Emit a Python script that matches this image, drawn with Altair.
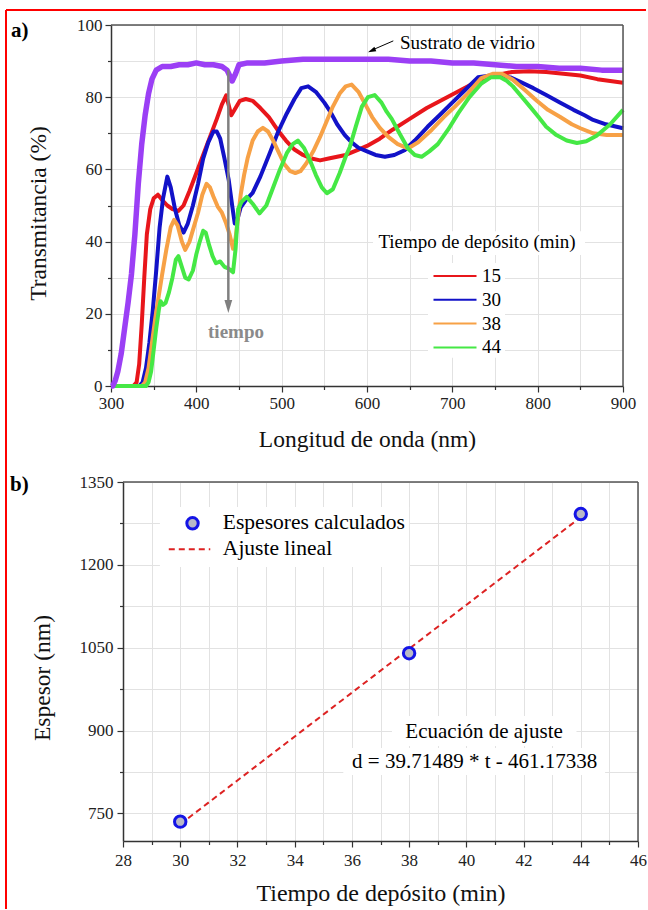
import altair as alt
import pandas as pd

FONT = "Liberation Serif, Times New Roman, serif"

# ---------------- Panel a) : transmittance spectra ----------------
wl_vidrio = [300, 302, 305, 308, 312, 316, 320, 324, 328, 332, 336, 340, 344, 348, 353, 360, 370, 380, 390,
             400, 410, 420, 430, 436, 442, 446, 450, 460, 480, 500, 525, 550, 575, 600, 625, 650, 675, 700,
             725, 750, 775, 800, 825, 850, 875, 900]
t_vidrio = [0, 0, 1.5, 4, 9, 16, 23, 31, 42, 56, 67, 75, 81, 85, 87.5, 88.5, 88.5, 89, 89,
            89.5, 89, 89, 88.5, 87.5, 84.5, 86.5, 89, 89.5, 89.5, 90, 90.5, 90.5, 90.5, 90.5, 90.5, 90, 90, 89.5,
            89.5, 89, 88.5, 88.5, 88, 88, 87.5, 87.5]

wl_15 = [300, 326, 330, 333, 336, 339, 342, 346, 350, 355, 360, 366, 372, 379, 385, 392, 400, 408, 416, 424,
         430, 435, 441, 446, 451, 458, 466, 475, 485, 495, 505, 515, 525, 535, 545, 555, 565, 575, 590, 600,
         615, 630, 650, 670, 690, 710, 730, 750, 770, 790, 810, 830, 850, 870, 885, 900]
t_15 = [0, 0, 1, 6, 17, 30, 42, 49, 52, 53, 51.5, 50, 49, 48.5, 50, 54, 59, 64, 69, 74,
        78, 80.5, 75, 77, 79, 79.5, 79, 77, 74.5, 71, 68, 65.5, 64, 63, 62.5, 63, 63.5, 64, 65.5, 66.5,
        68.5, 71, 74, 77, 79.5, 82, 84.5, 86, 87, 87.2, 87, 86.5, 86, 85, 84.5, 84]

wl_30 = [300, 333, 337, 341, 345, 349, 353, 357, 361, 366, 370, 375, 380, 385, 390, 396, 402, 408, 414, 420,
         424, 428, 433, 438, 442, 445, 448, 452, 458, 466, 475, 486, 496, 506, 515, 523, 531, 540, 550, 557,
         565, 574, 582, 590, 600, 610, 621, 632, 644, 656, 671, 685, 699, 715, 730, 745, 756, 768, 779, 795,
         810, 826, 842, 855, 865, 880, 900]
t_30 = [0, 0, 1, 5, 12, 21, 32, 44, 52, 58, 55, 49, 44.5, 42.5, 45, 50, 56, 63, 67.5, 70.5,
        70.5, 68.5, 63, 57, 50, 45, 46, 49.5, 51.5, 53.5, 58, 64.5, 70.5, 75.5, 79.5, 82.5, 83, 81.5, 78.5, 76,
        72.5, 69.5, 67.5, 66, 65, 64, 63.5, 64, 65.3, 68, 71.8, 75, 78.3, 82, 85.5, 86, 86, 85.5, 84.3, 82.5,
        80.6, 78.5, 76.5, 75, 73.7, 72.5, 71.4]

wl_38 = [300, 336, 340, 344, 348, 352, 356, 360, 365, 370, 374, 378, 383, 387, 392, 397, 402, 407, 412, 416,
         420, 425, 430, 435, 439, 443, 446, 449, 452, 456, 460, 466, 472, 478, 484, 490, 496, 503, 510, 516,
         522, 529, 537, 545, 553, 560, 568, 575, 582, 590, 598, 606, 615, 625, 636, 648, 660, 676, 690, 703,
         718, 734, 748, 758, 771, 785, 799, 812, 826, 840, 850, 865, 881, 900]
t_38 = [0, 0, 1, 5, 12, 19, 25, 31, 38, 44, 46, 44.5, 40, 37.7, 40, 44, 48, 53, 56, 55,
        52.5, 49.7, 48, 45, 42, 38, 41, 47, 53, 58.5, 63, 68, 70.5, 71.5, 70.5, 68, 65, 61.5, 59.5, 59,
        59.5, 61.7, 65, 69, 73.5, 77.4, 81, 83, 83.5, 81.5, 78, 74.5, 71.5, 69, 67, 65.8, 67.5, 71, 74.5, 77.4,
        81, 85.3, 86.5, 86.5, 84.8, 82, 79, 76.5, 74.6, 72.5, 71.4, 70, 69.5, 69.5]

wl_44 = [300, 341, 344, 347, 350, 353, 356, 358, 361, 364, 368, 372, 376, 379, 383, 387, 391, 396, 400, 404,
         408, 411, 415, 419, 423, 428, 433, 438, 443, 446, 449, 453, 459, 466, 474, 482, 490, 498, 506, 513,
         519, 526, 533, 540, 547, 553, 560, 568, 575, 580, 587, 594, 601, 609, 617, 623, 629, 638, 648, 656,
         664, 673, 683, 695, 707, 720, 734, 745, 756, 764, 771, 781, 791, 801, 810, 822, 834, 846, 857, 869,
         885, 900]
t_44 = [0, 0, 1, 4, 10, 16, 21, 23.5, 22.5, 23, 26, 30, 35, 36, 33, 30, 29.5, 32, 36.5, 40,
        43, 42.5, 39, 36, 34, 34.5, 33, 32.5, 31.5, 38, 49, 51, 52.4, 50.5, 47.8, 50, 55, 60, 64.5, 67,
        68, 66, 62.6, 58.5, 55, 53.4, 54.5, 59, 63.5, 66.3, 72, 77.4, 80, 80.6, 78.5, 76, 74, 70, 65.8, 64,
        63.5, 65, 67, 71, 75.6, 80, 83.8, 85.5, 85.5, 84.5, 83, 80.2, 77.4, 74.5, 71.8, 69.5, 68, 67.3, 67.8, 69.3,
        72.5, 76.5]

series_names = ["15", "30", "38", "44"]
series_colors = ["#e8161b", "#1212c8", "#f7a146", "#45e845"]
glass_color = "#9b3ff5"

rows = []
for name, w, t in zip(series_names, [wl_15, wl_30, wl_38, wl_44], [t_15, t_30, t_38, t_44]):
    for a, b in zip(w, t):
        rows.append({"wl": a, "T": b, "serie": name})
df_films = pd.DataFrame(rows)
df_glass = pd.DataFrame({"wl": wl_vidrio, "T": t_vidrio})

# annotations (data coordinates)
tiempo_arrow = pd.DataFrame({"wl": [437.5], "T": [87.5], "wl2": [437.5], "T2": [23.8]})
tiempo_head = pd.DataFrame({"wl": [437.5], "T": [22.0]})
tiempo_text = pd.DataFrame({"wl": [446.5], "T": [15.0], "txt": ["tiempo"]})
sust_arrow = pd.DataFrame({"wl": [630.8], "T": [95.6], "wl2": [609.4], "T2": [93.4]})
sust_head = pd.DataFrame({"wl": [605.5], "T": [92.9]})
sust_text = pd.DataFrame({"wl": [638.7], "T": [95.1], "txt": ["Sustrato de vidrio"]})
leg_title = pd.DataFrame({"wl": [728.9], "T": [39.9], "txt": ["Tiempo de depósito (min)"]})
mask_top = pd.DataFrame({"wl": [607, 671.5], "wl2": [855.5, 761.7], "T": [42.9, 34.1], "T2": [36.3, 7.8]})
one = pd.DataFrame({"k": [0]})

W1, H1 = 512, 361

X_TOP = alt.X("wl:Q", scale=alt.Scale(domain=[300, 900], nice=False, zero=False),
              axis=alt.Axis(values=list(range(300, 901, 50)),
                            labelExpr="datum.value % 100 === 0 ? datum.label : ''",
                            tickSize={"condition": {"test": "datum.value % 100 === 0", "value": 6}, "value": 3.5},
                            title="Longitud de onda (nm)", titleY=53, titleBaseline="middle",
                            labelPadding=3, labelFlush=False, labelFont=FONT, titleFont=FONT))
Y_TOP = alt.Y("T:Q", scale=alt.Scale(domain=[0, 100], nice=False),
              axis=alt.Axis(values=list(range(0, 101, 10)),
                            labelExpr="datum.value % 20 === 0 ? datum.label : ''",
                            tickSize={"condition": {"test": "datum.value % 20 === 0", "value": 6}, "value": 3.5},
                            title="Transmitancia (%)", titleX=-73, titleY=188, titleBaseline="middle",
                            titleAlign="center", labelPadding=3, labelFlush=False,
                            labelFont=FONT, titleFont=FONT))

mask_layer = alt.Chart(mask_top).mark_rect(color="white").encode(
    x=X_TOP, x2="wl2", y=Y_TOP, y2="T2")

films = alt.Chart(df_films).mark_line(strokeWidth=4, strokeJoin="round").encode(
    x=X_TOP, y=Y_TOP,
    color=alt.Color("serie:N", scale=alt.Scale(domain=series_names, range=series_colors),
                    legend=alt.Legend(title=None, orient="none", legendX=352, legendY=241.5,
                                      symbolType="M-9.75,0H1", symbolSize=64, symbolStrokeWidth=2,
                                      labelFont=FONT, labelFontSize=19, labelOffset=0, rowPadding=3.8,
                                      padding=0, labelColor="black")),
    order="wl:Q")

glass = alt.Chart(df_glass).mark_line(strokeWidth=5.5, color=glass_color, strokeJoin="round").encode(
    x=X_TOP, y=Y_TOP, order="wl:Q")

arr1 = alt.Chart(tiempo_arrow).mark_rule(color="#808080", strokeWidth=2.5).encode(
    x=X_TOP, x2="wl2", y=Y_TOP, y2="T2")
head1 = alt.Chart(tiempo_head).mark_point(shape="M-0.6,-1L0.6,-1L0,1Z", filled=True, color="#808080",
                                          size=169, opacity=1).encode(x=X_TOP, y=Y_TOP)
txt1 = alt.Chart(tiempo_text).mark_text(font=FONT, fontSize=19, fontWeight="bold", color="#8a8a8a",
                                        align="center", baseline="middle").encode(x=X_TOP, y=Y_TOP, text="txt:N")
arr2 = alt.Chart(sust_arrow).mark_rule(color="black", strokeWidth=1).encode(
    x=X_TOP, x2="wl2", y=Y_TOP, y2="T2")
head2 = alt.Chart(sust_head).mark_point(shape="M-0.6,-1L0.6,-1L0,1Z", filled=True, color="black",
                                        size=64, angle=66.5, opacity=1).encode(x=X_TOP, y=Y_TOP)
txt2 = alt.Chart(sust_text).mark_text(font=FONT, fontSize=19, color="black", align="left",
                                      baseline="middle").encode(x=X_TOP, y=Y_TOP, text="txt:N")
txt3 = alt.Chart(leg_title).mark_text(font=FONT, fontSize=19, color="black", align="center",
                                      baseline="middle").encode(x=X_TOP, y=Y_TOP, text="txt:N")

frame_top = alt.Chart(one).mark_rule(color="#555555", strokeWidth=1.5).encode(
    x=alt.value(0), x2=alt.value(W1), y=alt.value(0))
frame_right = alt.Chart(one).mark_rule(color="#555555", strokeWidth=1.5).encode(
    x=alt.value(W1), y=alt.value(0), y2=alt.value(H1))
red_h = alt.Chart(one).mark_rule(color="#ff0000", strokeWidth=2).encode(
    x=alt.value(-105), x2=alt.value(535), y=alt.value(-15))
red_v = alt.Chart(one).mark_rule(color="#ff0000", strokeWidth=2).encode(
    x=alt.value(-105), y=alt.value(-15), y2=alt.value(884))
lab_a = alt.Chart(one).mark_text(text="a)", font=FONT, fontSize=21, fontWeight="bold", align="left",
                                 baseline="middle", color="black").encode(x=alt.value(-100), y=alt.value(6))

top = alt.layer(mask_layer, films, glass, arr1, head1, txt1, arr2, head2, txt2, txt3,
                frame_top, frame_right, red_h, red_v, lab_a).properties(width=W1, height=H1)

# ---------------- Panel b) : thickness vs deposition time ----------------
t_dep = [30, 38, 44]
espesor = [735, 1040, 1292]
fit_t = [30, 44]
fit_d = [730.3, 1286.3]

df_pts = pd.DataFrame({"t": t_dep, "d": espesor})
df_fit = pd.DataFrame({"t": [fit_t[0]], "d": [fit_d[0]], "t2": [fit_t[1]], "d2": [fit_d[1]]})
leg_pt = pd.DataFrame({"t": [30.43], "d": [1275.2]})
leg_line = pd.DataFrame({"t": [29.60], "d": [1228.1], "t2": [31.05]})
leg_txt = pd.DataFrame({"t": [31.49, 31.49], "d": [1275.2, 1228.1], "txt": ["Espesores calculados", "Ajuste lineal"]})
eq_txt = pd.DataFrame({"t": [40.62, 40.29], "d": [897.9, 843.6],
                       "txt": ["Ecuación de ajuste", "d = 39.71489 * t - 461.17338"]})
mask_bot = pd.DataFrame({"t": [37.4, 35.7, 29.29], "t2": [43.85, 44.85, 38.0],
                         "d": [926.3, 868.4, 1304.7], "d2": [872.0, 819.5, 1196.0]})

SHIFT = 12
W2, H2 = 515 + SHIFT, 359

X_BOT = alt.X("t:Q", scale=alt.Scale(domain=[28, 46], nice=False, zero=False, range=[SHIFT, W2]),
              axis=alt.Axis(values=list(range(28, 47)),
                            labelExpr="datum.value % 2 === 0 ? datum.label : ''",
                            tickSize={"condition": {"test": "datum.value % 2 === 0", "value": 6}, "value": 3.5},
                            title="Tiempo de depósito (min)", titleY=52, titleBaseline="middle",
                            titleFontSize=24,
                            labelPadding=5, labelFlush=False, labelFont=FONT, titleFont=FONT))
Y_BOT = alt.Y("d:Q", scale=alt.Scale(domain=[700, 1350], nice=False, zero=False),
              axis=alt.Axis(values=list(range(750, 1351, 75)),
                            labelExpr="(datum.value - 750) % 150 === 0 ? datum.label : ''",
                            tickSize={"condition": {"test": "(datum.value - 750) % 150 === 0", "value": 6},
                                      "value": 3.5},
                            format="d", offset=-SHIFT,
                            title="Espesor (nm)", titleX=-80.5, titleY=195.5, titleBaseline="middle",
                            titleAlign="center", labelPadding=4, labelFlush=False,
                            labelFont=FONT, titleFont=FONT))

mask2 = alt.Chart(mask_bot).mark_rect(color="white").encode(x=X_BOT, x2="t2", y=Y_BOT, y2="d2")
fit = alt.Chart(df_fit).mark_rule(color="#dd2222", strokeWidth=2, strokeDash=[6, 4]).encode(
    x=X_BOT, x2="t2", y=Y_BOT, y2="d2")
pts = alt.Chart(df_pts).mark_point(shape="circle", filled=True, fill="#b9b9c6", stroke="#1414e6",
                                   strokeWidth=3, size=130, opacity=1).encode(x=X_BOT, y=Y_BOT)
lpt = alt.Chart(leg_pt).mark_point(shape="circle", filled=True, fill="#b9b9c6", stroke="#1414e6",
                                   strokeWidth=3, size=130, opacity=1).encode(x=X_BOT, y=Y_BOT)
lline = alt.Chart(leg_line).mark_rule(color="#dd2222", strokeWidth=2, strokeDash=[6, 4]).encode(
    x=X_BOT, x2="t2", y=Y_BOT)
ltxt = alt.Chart(leg_txt).mark_text(font=FONT, fontSize=21.5, color="black", align="left",
                                    baseline="middle").encode(x=X_BOT, y=Y_BOT, text="txt:N")
etxt = alt.Chart(eq_txt).mark_text(font=FONT, fontSize=21, color="black", align="center",
                                   baseline="middle").encode(x=X_BOT, y=Y_BOT, text="txt:N")
frame2_top = alt.Chart(one).mark_rule(color="#555555", strokeWidth=1.5).encode(
    x=alt.value(SHIFT), x2=alt.value(W2), y=alt.value(0))
frame2_right = alt.Chart(one).mark_rule(color="#555555", strokeWidth=1.5).encode(
    x=alt.value(W2), y=alt.value(0), y2=alt.value(H2))
lab_b = alt.Chart(one).mark_text(text="b)", font=FONT, fontSize=21, fontWeight="bold", align="left",
                                 baseline="middle", color="black").encode(x=alt.value(-101), y=alt.value(3))

bottom = alt.layer(mask2, fit, pts, lpt, lline, ltxt, etxt, frame2_top, frame2_right, lab_b).properties(
    width=W2, height=H2)

chart = alt.vconcat(top, bottom, spacing=96, bounds="flush").resolve_scale(color="independent").properties(
    padding={"left": 5, "top": 9, "right": 0, "bottom": 0},
    background="white",
).configure_view(stroke=None).configure_axis(
    labelFont=FONT, titleFont=FONT, labelFontSize=17, titleFontSize=23.5, titleFontWeight="normal",
    labelColor="#222222", titleColor="#111111",
    domainColor="#333333", domainWidth=1.5, tickColor="#333333", tickWidth=1.2,
    grid=True, gridColor="#e2e2e2", gridWidth=1,
).configure_text(font=FONT).configure_legend(labelFont=FONT)

chart.save("out.html", embed_options={"renderer": "svg", "actions": False})
